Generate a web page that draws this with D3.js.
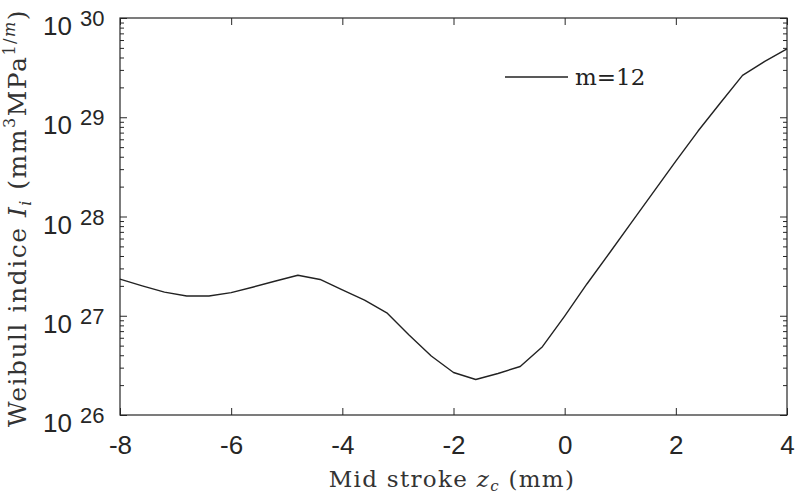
<!DOCTYPE html>
<html><head><meta charset="utf-8">
<script src="https://cdn.jsdelivr.net/npm/d3@7"></script>
<style>
body{margin:0;background:#fff;}
svg{display:block;}
</style></head>
<body>
<svg id="chart" width="803" height="495"></svg>
<script>
const zc = [-8,-7.6,-7.2,-6.8,-6.4,-6.0,-5.6,-5.2,-4.8,-4.4,-4.0,-3.6,-3.2,-2.8,-2.4,-2.0,-1.6,-1.2,-0.8,-0.4,0,0.4,0.8,1.2,1.6,2.0,2.4,2.8,3.2,3.6,4.0];
const weibullM12 = [2.34e27,2.00e27,1.73e27,1.58e27,1.58e27,1.71e27,1.95e27,2.24e27,2.56e27,2.32e27,1.82e27,1.44e27,1.07e27,6.40e26,3.93e26,2.68e26,2.28e26,2.62e26,3.08e26,4.88e26,9.93e26,2.09e27,4.24e27,8.67e27,1.77e28,3.62e28,7.26e28,1.39e29,2.64e29,3.65e29,4.88e29];
const xTicks = [-8,-6,-4,-2,0,2,4];
const yExponents = [26,27,28,29,30];
const seriesName = "m=12";

const svg = d3.select("#chart");
const W = 803, H = 495;
const m = {left:120, right:16, top:18, bottom:80};
const x = d3.scaleLinear().domain([-8,4]).range([m.left, W-m.right]);
const y = d3.scaleLog().domain([1e26,1e30]).range([H-m.bottom, m.top]);

const axisColor = "#262626";
const tickFont = "'Liberation Sans', Arial, Helvetica, sans-serif";
const serif = "'DejaVu Serif', 'Liberation Serif', serif";

const minorY = [];
for (let e=26; e<30; e++) for (let k=2;k<=9;k++) minorY.push(k*Math.pow(10,e));

const g = svg.append("g");

const gx = g.append("g").attr("transform",`translate(0,${H-m.bottom})`)
  .call(d3.axisBottom(x).tickValues(xTicks).tickSizeInner(-7).tickSizeOuter(0).tickPadding(21).tickFormat(d=>d3.format("d")(d).replace("−","-")));
gx.selectAll("text").attr("font-family",tickFont).attr("font-size",26).attr("fill",axisColor).attr("dy","0.71em");
const gxt = g.append("g").attr("transform",`translate(0,${m.top})`)
  .call(d3.axisTop(x).tickValues(xTicks).tickSizeInner(-7).tickSizeOuter(0).tickFormat(""));
const gy = g.append("g").attr("transform",`translate(${m.left},0)`)
  .call(d3.axisLeft(y).tickValues(yExponents.map(e=>Math.pow(10,e))).tickSizeInner(-7).tickSizeOuter(0).tickFormat(""));
const gyMin = g.append("g").attr("transform",`translate(${m.left},0)`)
  .call(d3.axisLeft(y).tickValues(minorY).tickSizeInner(-4).tickSizeOuter(0).tickFormat(""));
const gyr = g.append("g").attr("transform",`translate(${W-m.right},0)`)
  .call(d3.axisRight(y).tickValues(yExponents.map(e=>Math.pow(10,e))).tickSizeInner(-7).tickSizeOuter(0).tickFormat(""));
const gyrMin = g.append("g").attr("transform",`translate(${W-m.right},0)`)
  .call(d3.axisRight(y).tickValues(minorY).tickSizeInner(-4).tickSizeOuter(0).tickFormat(""));

[gx,gxt,gy,gyMin,gyr,gyrMin].forEach(a=>{
  a.select(".domain").remove();
  a.selectAll("line").attr("stroke",axisColor).attr("stroke-width",1);
});

g.append("rect").attr("x",m.left).attr("y",m.top)
  .attr("width",W-m.left-m.right).attr("height",H-m.top-m.bottom)
  .attr("fill","none").attr("stroke",axisColor).attr("stroke-width",1.2);

yExponents.forEach(e=>{
  const t = g.append("text").attr("x",43).attr("y",y(Math.pow(10,e))+17)
    .attr("font-family",tickFont).attr("fill",axisColor);
  t.append("tspan").attr("font-size",26).text("10");
  t.append("tspan").attr("font-size",22).attr("dx",8).attr("dy",-9).text(String(e));
});

const line = d3.line().x((d,i)=>x(zc[i])).y(d=>y(d));
g.append("path").datum(weibullM12).attr("d",line)
  .attr("fill","none").attr("stroke","#222").attr("stroke-width",1.4).attr("stroke-linejoin","round");

g.append("line").attr("x1",505).attr("x2",568).attr("y1",77).attr("y2",77)
  .attr("stroke","#222").attr("stroke-width",1.4);
g.append("text").attr("x",575).attr("y",85).attr("font-family",serif).attr("font-size",23)
  .attr("fill","#222").text(seriesName);

const xl = g.append("text").attr("x",452).attr("y",487)
  .attr("text-anchor","middle").attr("font-family",serif).attr("font-size",23)
  .attr("letter-spacing",1.3).attr("fill","#333");
xl.append("tspan").text("Mid stroke ");
xl.append("tspan").attr("font-style","italic").text("z");
xl.append("tspan").attr("font-style","italic").attr("font-size",15).attr("dy",4).text("c");
xl.append("tspan").attr("dy",-4).text(" (mm)");

const yl = g.append("text").attr("transform",`translate(26,${218}) rotate(-90)`)
  .attr("text-anchor","middle").attr("font-family",serif).attr("font-size",25)
  .attr("letter-spacing",1.5).attr("fill","#333");
yl.append("tspan").text("Weibull indice ");
yl.append("tspan").attr("font-style","italic").text("I");
yl.append("tspan").attr("font-style","italic").attr("font-size",16).attr("dy",5).text("i");
yl.append("tspan").attr("dy",-5).text(" (mm");
yl.append("tspan").attr("font-size",16).attr("dy",-11).text("3");
yl.append("tspan").attr("dy",11).text("MPa");
yl.append("tspan").attr("font-size",16).attr("dy",-11).text("1/");
yl.append("tspan").attr("font-size",16).attr("font-style","italic").text("m");
yl.append("tspan").attr("dy",11).text(")");
</script>
</body></html>
